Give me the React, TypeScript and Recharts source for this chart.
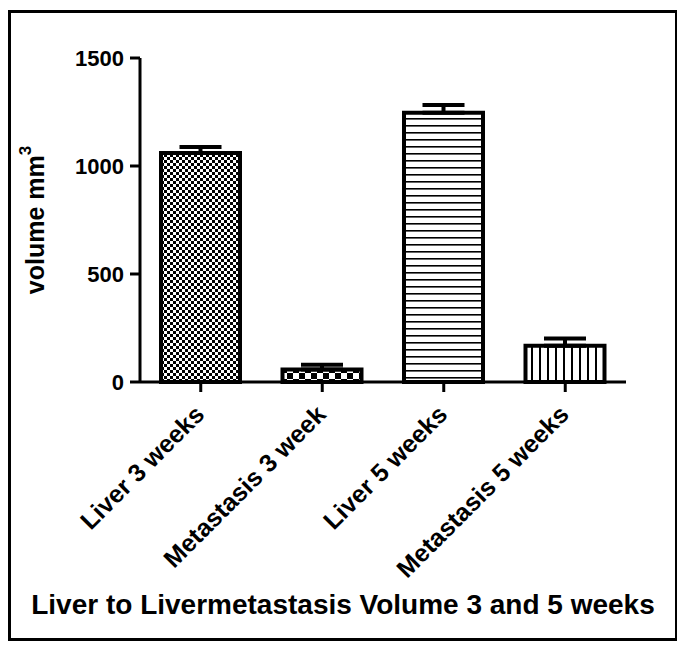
import React from 'react';
import { BarChart, Bar, XAxis, YAxis, ErrorBar, Cell, Label } from 'recharts';

const categories = ['Liver 3 weeks', 'Metastasis 3 week', 'Liver 5 weeks', 'Metastasis 5 weeks'];
const volumes = [1060, 58, 1247, 168];
const errors = [28, 22, 35, 33];
const patternIds = ['checkFine', 'checkCoarse', 'hLines', 'vLines'];
const yTicks = [0, 500, 1000, 1500];

const data = categories.map((name, i) => ({
  name,
  volume: volumes[i],
  err: [0, errors[i]],
}));

const FONT = '"Liberation Sans", Arial, Helvetica, sans-serif';

const XTick = (props: any) => {
  const { x, y, payload } = props;
  return (
    <g transform={`translate(${x + 5},${y + 22})`}>
      <text
        x={0}
        y={0}
        textAnchor="end"
        transform="rotate(-45)"
        fontFamily={FONT}
        fontWeight="bold"
        fontSize={25}
        fill="#000"
      >
        {payload.value}
      </text>
    </g>
  );
};

const YLabel = (props: any) => {
  const { viewBox } = props;
  const cx = 24;
  const cy = viewBox.y + viewBox.height / 2;
  return (
    <text
      x={cx}
      y={cy}
      transform={`rotate(-90 ${cx} ${cy})`}
      textAnchor="middle"
      dominantBaseline="central"
      fontFamily={FONT}
      fontWeight="bold"
      fontSize={25}
      fill="#000"
    >
      <tspan>volume mm</tspan>
      <tspan dy={-10} fontSize={17}>3</tspan>
    </text>
  );
};

const Patterns = () => (
  <svg width={0} height={0} style={{ position: 'absolute' }}>
    <defs>
      <pattern id="checkFine" width={6} height={6} patternUnits="userSpaceOnUse">
        <rect width={6} height={6} fill="#fff" />
        <rect x={0} y={0} width={3} height={3} fill="#000" />
        <rect x={3} y={3} width={3} height={3} fill="#000" />
      </pattern>
      <pattern id="checkCoarse" width={12} height={12} patternUnits="userSpaceOnUse">
        <rect width={12} height={12} fill="#fff" />
        <rect x={0} y={0} width={6} height={6} fill="#000" />
        <rect x={6} y={6} width={6} height={6} fill="#000" />
      </pattern>
      <pattern id="hLines" width={8} height={7} patternUnits="userSpaceOnUse">
        <rect width={8} height={7} fill="#fff" />
        <rect x={0} y={0} width={8} height={1.6} fill="#000" />
      </pattern>
      <pattern id="vLines" width={8} height={8} patternUnits="userSpaceOnUse">
        <rect width={8} height={8} fill="#fff" />
        <rect x={0} y={0} width={2} height={8} fill="#000" />
      </pattern>
    </defs>
  </svg>
);

const App: React.FC = () => {
  return (
    <div
      style={{
        marginTop: 2,
        width: 670,
        height: 631,
        border: '3px solid #000',
        boxSizing: 'border-box',
        position: 'relative',
        background: '#fff',
      }}
    >
      <Patterns />
      <BarChart
        width={664}
        height={625}
        data={data}
        margin={{ top: 45, right: 49, left: 0, bottom: 0 }}
      >
        <XAxis
          dataKey="name"
          interval={0}
          height={256}
          tick={<XTick />}
          tickSize={10}
          tickMargin={2}
          axisLine={{ stroke: '#000', strokeWidth: 3 }}
          tickLine={{ stroke: '#000', strokeWidth: 3 }}
        />
        <YAxis
          width={129}
          domain={[0, 1500]}
          ticks={yTicks}
          tickSize={10}
          tickMargin={6}
          axisLine={{ stroke: '#000', strokeWidth: 3 }}
          tickLine={{ stroke: '#000', strokeWidth: 3 }}
          tick={{ fill: '#000', fontFamily: FONT, fontWeight: 'bold', fontSize: 22 }}
        >
          <Label content={<YLabel />} />
        </YAxis>
        <Bar dataKey="volume" barSize={79} stroke="#000" strokeWidth={4} isAnimationActive={false}>
          {data.map((d, i) => (
            <Cell key={d.name} fill={`url(#${patternIds[i]})`} />
          ))}
          <ErrorBar dataKey="err" width={21} stroke="#000" strokeWidth={4} direction="y" />
        </Bar>
      </BarChart>
      <div
        style={{
          position: 'absolute',
          left: 0,
          top: 576,
          width: 664,
          textAlign: 'center',
          fontFamily: FONT,
          fontWeight: 'bold',
          fontSize: 28,
          lineHeight: '32px',
          color: '#000',
        }}
      >
        Liver to Livermetastasis Volume 3 and 5 weeks
      </div>
    </div>
  );
};

export default App;
